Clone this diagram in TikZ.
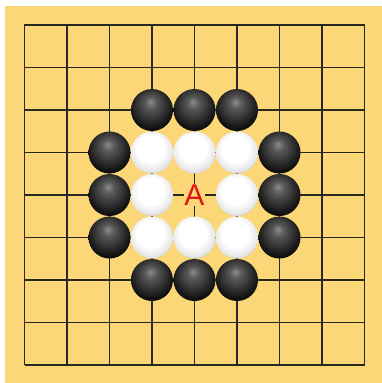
\documentclass[tikz,border=0pt]{standalone}
\usepackage{fontspec}
\setsansfont{Liberation Sans}
\definecolor{board}{RGB}{251,215,120}
\definecolor{gridc}{RGB}{40,40,35}
\definecolor{markred}{RGB}{228,20,20}
\pgfdeclareradialshading{blackstone}{\pgfpoint{-2bp}{10bp}}{color(0bp)=(black!45!white); color(7bp)=(black!65!white); color(24bp)=(black!90!white); color(32bp)=(black); color(50bp)=(black)}
\pgfdeclareradialshading{whitestone}{\pgfpoint{-3bp}{7bp}}{color(0bp)=(white); color(16bp)=(white); color(26bp)=(black!10!white); color(32bp)=(black!35!white); color(50bp)=(black!40!white)}
\tikzset{
  bstone/.style={circle, minimum size=42pt, inner sep=0pt, shading=blackstone},
  wstone/.style={circle, minimum size=42pt, inner sep=0pt, shading=whitestone},
  gridline/.style={draw=gridc, line width=1.1pt},
}
\begin{document}
\begin{tikzpicture}[x=1pt,y=-1pt]
\fill[white] (0,0) rectangle (382,383);
\useasboundingbox (0,0) rectangle (382,383);
\fill[board] (5,6) rectangle (382,383);
\foreach \i in {0,...,8} {
  \draw[gridline] (24.5+42.5*\i,25) -- (24.5+42.5*\i,364.5);
  \draw[gridline] (24.5,25+42.5*\i) -- (364.5,25+42.5*\i);
}
\draw[gridc, line width=1.6pt] (24.5,25) rectangle (364.5,364.5);
% black stones
\foreach \c/\r [count=\n] in {3/2,4/2,5/2,2/3,6/3,2/4,6/4,2/5,6/5,3/6,4/6,5/6}
  \node[bstone] (b\n) at (24.5+42.5*\c,25+42.5*\r) {};
% white stones
\foreach \c/\r [count=\n] in {3/3,4/3,5/3,3/4,5/4,3/5,4/5,5/5}
  \node[wstone] (w\n) at (24.5+42.5*\c,25+42.5*\r) {};
\node[fill=board, inner sep=0.5pt, text=markred, font=\sffamily\fontsize{30}{30}\selectfont] (A) at (194.5,195) {A};
\end{tikzpicture}
\end{document}
